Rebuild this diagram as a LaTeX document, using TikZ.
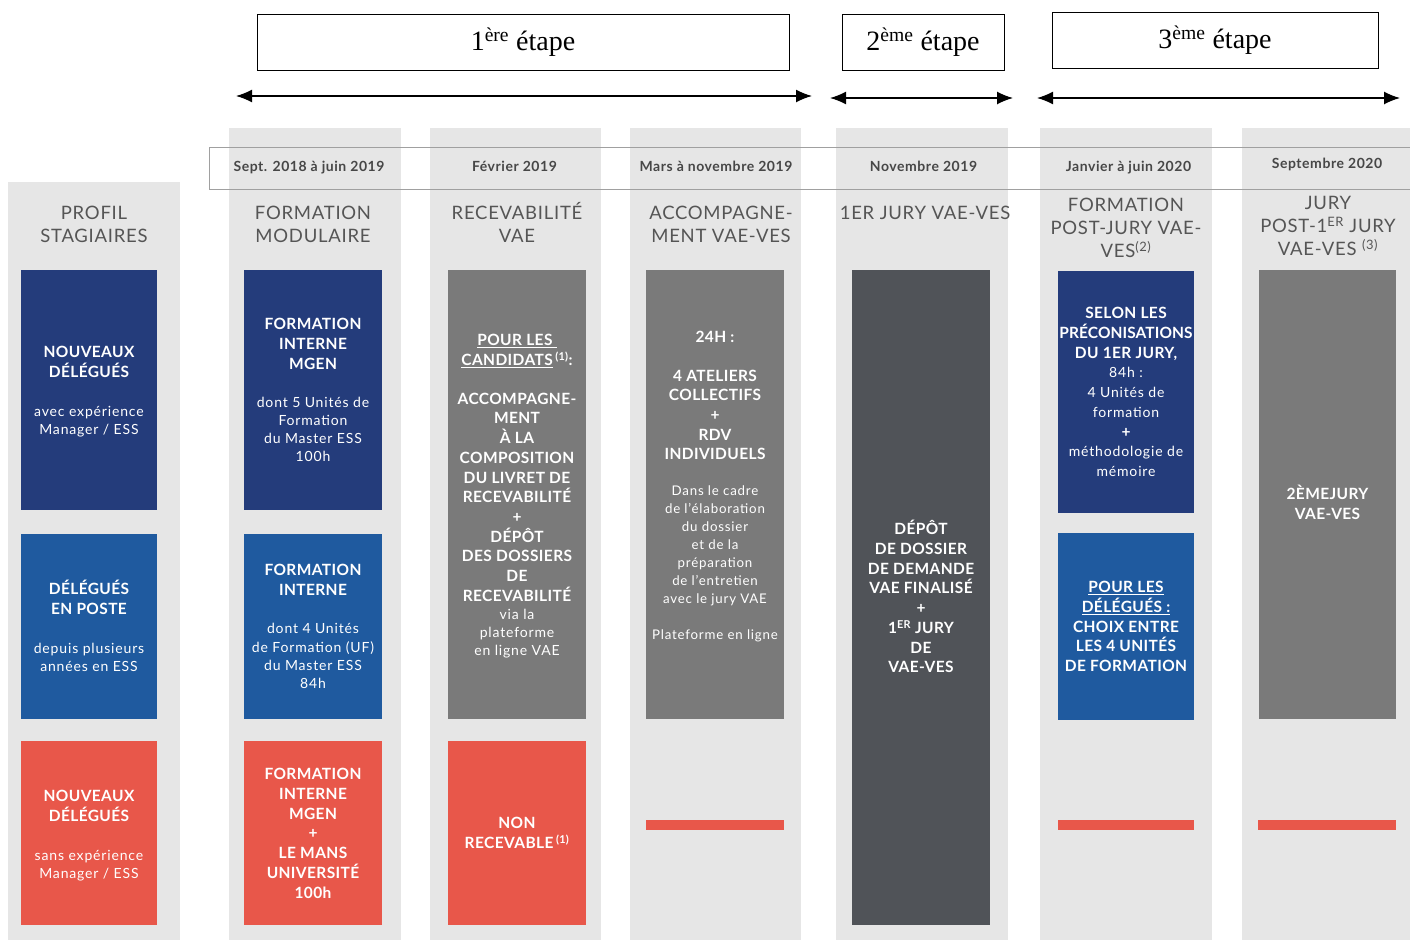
\documentclass[tikz,border=0pt]{standalone}
\usepackage{fontspec}
\setmainfont{Lato}
\newfontfamily\tnr{Liberation Serif}
\newfontfamily\bxf[LetterSpace=2.5]{Lato}
\newfontfamily\bxtight[LetterSpace=0.5]{Lato}
\newfontfamily\rgf[LetterSpace=6]{Lato}
\newfontfamily\hdf[LetterSpace=4]{Lato}
\newfontfamily\dtf[LetterSpace=4]{Lato}
\usetikzlibrary{arrows.meta}
\definecolor{bgc}{HTML}{E6E6E6}
\definecolor{dblue}{HTML}{243C7B}
\definecolor{mblue}{HTML}{1F5A9F}
\definecolor{redc}{HTML}{E8574A}
\definecolor{greyb}{HTML}{7A7A7A}
\definecolor{dgrey}{HTML}{505358}
\definecolor{headc}{HTML}{555555}
\definecolor{datec}{HTML}{474747}
\definecolor{bandc}{HTML}{A0A0A0}
\newcommand\fl{\rule{0pt}{16pt}}
\newcommand\hl{\rule{0pt}{18pt}}
\newcommand\rg{\rgf\fontsize{14}{19.7}\mdseries\selectfont}
\newcommand\rs{\rgf\fontsize{13.3}{19.7}\mdseries\selectfont}
\newcommand\sps[1]{\,\textsuperscript{#1}}
\begin{document}
\begin{tikzpicture}[x=1pt,y=-1pt,
  colbg/.style={fill=bgc,draw=none,inner sep=0pt},
  box/.style={fill=#1,draw=none,inner sep=0pt},
  band/.style={draw=bandc,line width=1pt,inner sep=0pt},
  stagebox/.style={draw=black,line width=0.8pt,fill=white,inner sep=0pt,font=\tnr\fontsize{28}{32}\selectfont},
  darrow/.style={{Latex[length=16pt,width=13pt]}-{Latex[length=16pt,width=13pt]},line width=1.4pt},
  bt/.style={font=\bxf\fontsize{15.5}{19.7}\bfseries\selectfont,text=white,align=center,inner sep=0pt,anchor=north},
  ht/.style={font=\hdf\fontsize{18.5}{23}\selectfont,text=headc,align=center,inner sep=0pt,anchor=north},
  dt/.style={font=\dtf\fontsize{14}{16}\bfseries\selectfont,text=datec,inner sep=0pt,anchor=base}
]
\useasboundingbox (0,0) rectangle (1410,940);
% column backgrounds
\node[colbg,minimum width=172,minimum height=758] (c0) at (94,561) {};
\node[colbg,minimum width=172,minimum height=812] (c1) at (315,534) {};
\node[colbg,minimum width=171,minimum height=812] (c2) at (515.5,534) {};
\node[colbg,minimum width=171,minimum height=812] (c3) at (715.5,534) {};
\node[colbg,minimum width=172,minimum height=812] (c4) at (922,534) {};
\node[colbg,minimum width=172,minimum height=812] (c5) at (1126,534) {};
\node[colbg,minimum width=168,minimum height=812] (c6) at (1326,534) {};
% date band
\node[band,minimum width=1210,minimum height=42] (band) at (814,168) {};
% stage boxes
\node[stagebox,minimum width=532,minimum height=56] (s1) at (523,42) {1\textsuperscript{ère} étape};
\node[stagebox,minimum width=162,minimum height=56] (s2) at (923,42) {2\textsuperscript{ème} étape};
\node[stagebox,minimum width=326,minimum height=56] (s3) at (1215,40) {3\textsuperscript{ème} étape};
% arrows
\coordinate (a1l) at (236,96); \coordinate (a1r) at (812,96);
\coordinate (a2l) at (830,98); \coordinate (a2r) at (1013,98);
\coordinate (a3l) at (1037,98); \coordinate (a3r) at (1400,98);
\draw[darrow] (a1l) -- (a1r);
\draw[darrow] (a2l) -- (a2r);
\draw[darrow] (a3l) -- (a3r);
% dates
\node[dt] (d1) at (309,171) {Sept. 2018 à juin 2019};
\node[dt] (d2) at (514.5,171) {Février 2019};
\node[dt] (d3) at (716,171) {Mars à novembre 2019};
\node[dt] (d4) at (923.5,171) {Novembre 2019};
\node[dt] (d5) at (1128.5,171) {Janvier à juin 2020};
\node[dt] (d6) at (1327,168) {Septembre 2020};
% headers
\node[ht] (h0) at (94,201.5) {\hl PROFIL\\STAGIAIRES};
\node[ht] (h1) at (313,201.5) {\hl FORMATION\\MODULAIRE};
\node[ht] (h2) at (517,201.5) {\hl RECEVABILITÉ\\VAE};
\node[ht] (h3) at (721,201.5) {\hl ACCOMPAGNE-\\MENT VAE-VES};
\node[ht] (h4) at (925,201.5) {\hl 1ER JURY VAE-VES};
\node[ht] (h5) at (1126,193.5) {\hl FORMATION\\POST-JURY VAE-\\VES\textsuperscript{(2)}};
\node[ht] (h6) at (1328,191.5) {\hl JURY\\POST-1\textsuperscript{ER} JURY\\VAE-VES \textsuperscript{(3)}};
% boxes column 0
\node[box=dblue,minimum width=136,minimum height=240] (b01) at (89,390) {};
\node[box=mblue,minimum width=136,minimum height=185] (b02) at (89,626.5) {};
\node[box=redc,minimum width=136,minimum height=184] (b03) at (89,833) {};
% column 1
\node[box=dblue,minimum width=138,minimum height=240] (b11) at (313,390) {};
\node[box=mblue,minimum width=138,minimum height=185] (b12) at (313,626.5) {};
\node[box=redc,minimum width=138,minimum height=184] (b13) at (313,833) {};
% column 2
\node[box=greyb,minimum width=138,minimum height=449] (b21) at (517,494.5) {};
\node[box=redc,minimum width=138,minimum height=184] (b22) at (517,833) {};
% column 3
\node[box=greyb,minimum width=138,minimum height=449] (b31) at (715,494.5) {};
\node[box=redc,minimum width=138,minimum height=10] (b32) at (715,825) {};
% column 4
\node[box=dgrey,minimum width=138,minimum height=655] (b41) at (921,597.5) {};
% column 5
\node[box=dblue,minimum width=136,minimum height=242] (b51) at (1126,392) {};
\node[box=mblue,minimum width=136,minimum height=187] (b52) at (1126,626.5) {};
\node[box=redc,minimum width=136,minimum height=10] (b53) at (1126,825) {};
% column 6
\node[box=greyb,minimum width=137,minimum height=449] (b61) at (1327.5,494.5) {};
\node[box=redc,minimum width=138,minimum height=10] (b62) at (1327,825) {};
% texts
\node[bt] (t01) at (89,341.6) {\fl NOUVEAUX\\DÉLÉGUÉS\\[19pt]{\rg avec expérience}\\[-1.7pt]{\rg Manager / ESS}};
\node[bt] (t02) at (89,578.6) {\fl DÉLÉGUÉS\\EN POSTE\\[19pt]{\rg depuis plusieurs}\\[-1.7pt]{\rg années en ESS}};
\node[bt] (t03) at (89,785.6) {\fl NOUVEAUX\\DÉLÉGUÉS\\[19pt]{\rg sans expérience}\\[-1.7pt]{\rg Manager / ESS}};
\node[bt] (t11) at (313,313.6) {\fl FORMATION\\INTERNE\\MGEN\\[18.5pt]{\rg dont 5 Unités de}\\[-1.7pt]{\rg Formation}\\[-1.7pt]{\rg du Master ESS}\\[-1.7pt]{\rg 100h}};
\node[bt] (t12) at (313,559.6) {\fl FORMATION\\INTERNE\\[18.5pt]{\rg dont 4 Unités}\\[-1.2pt]{\rg de Formation (UF)}\\[-1.7pt]{\rg du Master ESS}\\[-1.7pt]{\rg 84h}};
\node[bt] (t13) at (313,763.6) {\fl FORMATION\\INTERNE\\MGEN\\+\\LE MANS\\UNIVERSITÉ\\100h};
\node[bt] (t21) at (517,329.6) {\fl \underline{POUR LES\ }\\\underline{CANDIDATS}\sps{(1)}:\\[19pt]ACCOMPAGNE-\\MENT\\À LA\\COMPOSITION\\DU LIVRET DE\\RECEVABILITÉ\\+\\DÉPÔT\\DES DOSSIERS\\DE\\RECEVABILITÉ\\[-1.5pt]{\rg via la}\\[-1.7pt]{\rg plateforme}\\[-1.7pt]{\rg en ligne VAE}};
\node[bt] (t22) at (517,812.6) {\fl NON\\RECEVABLE\sps{(1)}};
\node[bt] (t31) at (715,326.6) {\fl 24H :\\[18.5pt]4 ATELIERS\\COLLECTIFS\\+\\RDV\\INDIVIDUELS\\[16pt]{\rs Dans le cadre}\\[-1.7pt]{\rs de l’élaboration}\\[-1.7pt]{\rs du dossier}\\[-1.7pt]{\rs et de la}\\[-1.7pt]{\rs préparation}\\[-1.7pt]{\rs de l’entretien}\\[-1.7pt]{\rs avec le jury VAE}\\[16.3pt]{\rs Plateforme en ligne}};
\node[bt] (t41) at (921,518.6) {\fl DÉPÔT\\DE DOSSIER\\DE DEMANDE\\VAE FINALISÉ\\+\\1\textsuperscript{ER} JURY\\DE\\VAE-VES};
\node[bt] (t51) at (1126,302.6) {\fl SELON LES\\{\bxtight\bfseries PRÉCONISATIONS}\\DU 1ER JURY,\\{\rg 84h :}\\{\rg 4 Unités de}\\{\rg formation}\\+\\{\rg méthodologie de}\\{\rg mémoire}};
\node[bt] (t52) at (1126,576.6) {\fl \underline{POUR LES}\\\underline{DÉLÉGUÉS :}\\CHOIX ENTRE\\LES 4 UNITÉS\\DE FORMATION};
\node[bt] (t61) at (1327.5,483.6) {\fl 2ÈMEJURY\\VAE-VES};
\end{tikzpicture}
\end{document}
